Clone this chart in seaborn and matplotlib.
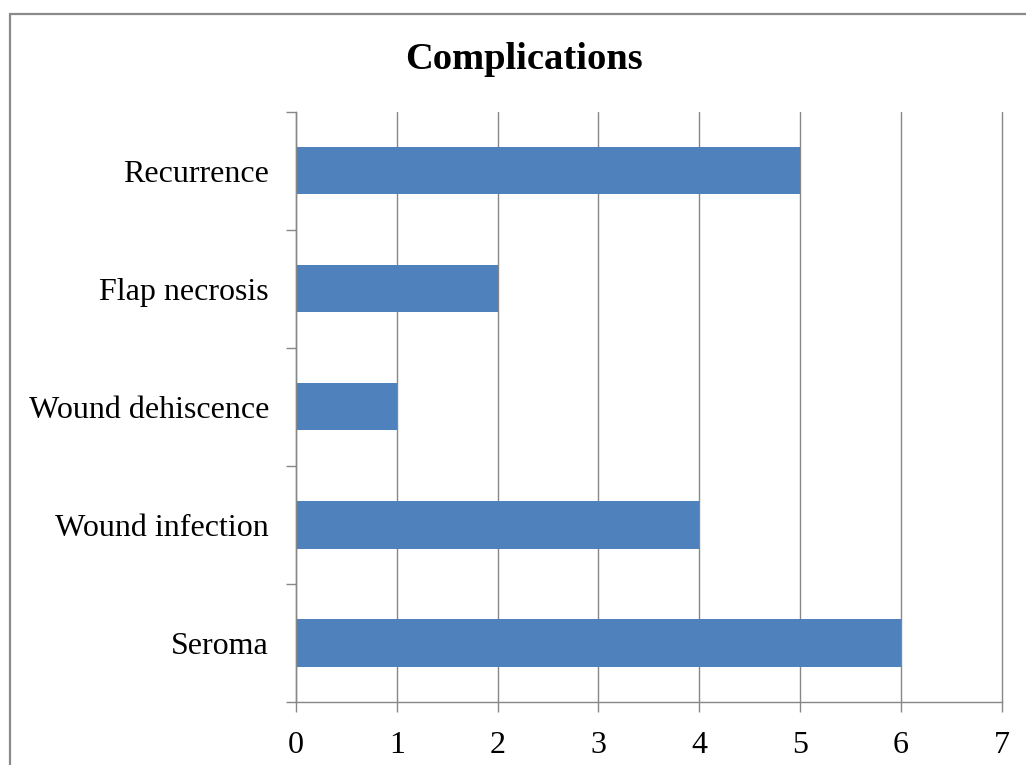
import matplotlib
matplotlib.use("Agg")
import matplotlib.pyplot as plt
from matplotlib.patches import Rectangle
from matplotlib.ticker import FixedLocator
import seaborn as sns
import pandas as pd

# Complication counts
categories = ["Recurrence", "Flap necrosis", "Wound dehiscence", "Wound infection", "Seroma"]
counts = [5, 2, 1, 4, 6]
x_ticks = [0, 1, 2, 3, 4, 5, 6, 7]
title = "Complications"

sns.set_theme(style="white")
plt.rcParams["font.family"] = ["Liberation Serif", "DejaVu Serif"]

W, H = 1026, 765
fig = plt.figure(figsize=(W / 100, H / 100), dpi=100)
fig.patch.set_facecolor("white")

# chart area frame
fig.add_artist(Rectangle((9.5 / W, -0.1), 1.2, 1 - 13.5 / H + 0.1,
                         transform=fig.transFigure, fill=False,
                         edgecolor="#8a8a8a", linewidth=1.6))

left, right, top, bottom = 296, 1001.5, 111.7, 702
ax = fig.add_axes([left / W, 1 - bottom / H, (right - left) / W, (bottom - top) / H])

df = pd.DataFrame({"category": categories, "count": counts})
sns.barplot(data=df, x="count", y="category", order=categories, orient="h",
            color="#4F81BD", saturation=1, width=0.4, linewidth=0, ax=ax)

grid_c = "#878787"
ax.set_xlim(0, 7)
ax.set_ylim(len(categories) - 0.5, -0.5)
ax.set_xticks(x_ticks)
ax.set_xticklabels([str(t) for t in x_ticks])
ax.xaxis.grid(True, color=grid_c, linewidth=1.0)
for gl in ax.get_xgridlines():
    gl.set_clip_on(False)
ax.yaxis.grid(False)
ax.set_axisbelow(True)

for s in ["top", "right"]:
    ax.spines[s].set_visible(False)
for s in ["left", "bottom"]:
    ax.spines[s].set_color(grid_c)
    ax.spines[s].set_linewidth(1.0)

ax.set_xlabel("")
ax.set_ylabel("")

# category tick marks sit on the boundaries between bars
ax.yaxis.set_minor_locator(FixedLocator([i - 0.5 for i in range(len(categories) + 1)]))
ax.tick_params(axis="y", which="major", length=0, pad=19.5, labelsize=23, labelcolor="black")
ax.tick_params(axis="y", which="minor", left=True, length=7, width=1.0, color=grid_c, direction="out")
ax.tick_params(axis="x", which="major", bottom=True, length=7, width=1.0, color=grid_c,
               direction="out", pad=14, labelsize=23, labelcolor="black")

fig.text(524 / W, 1 - 69 / H, title, ha="center", va="baseline",
         fontsize=27.7, fontweight="bold", color="black")

fig.savefig("out.png", dpi=100, facecolor="white")
